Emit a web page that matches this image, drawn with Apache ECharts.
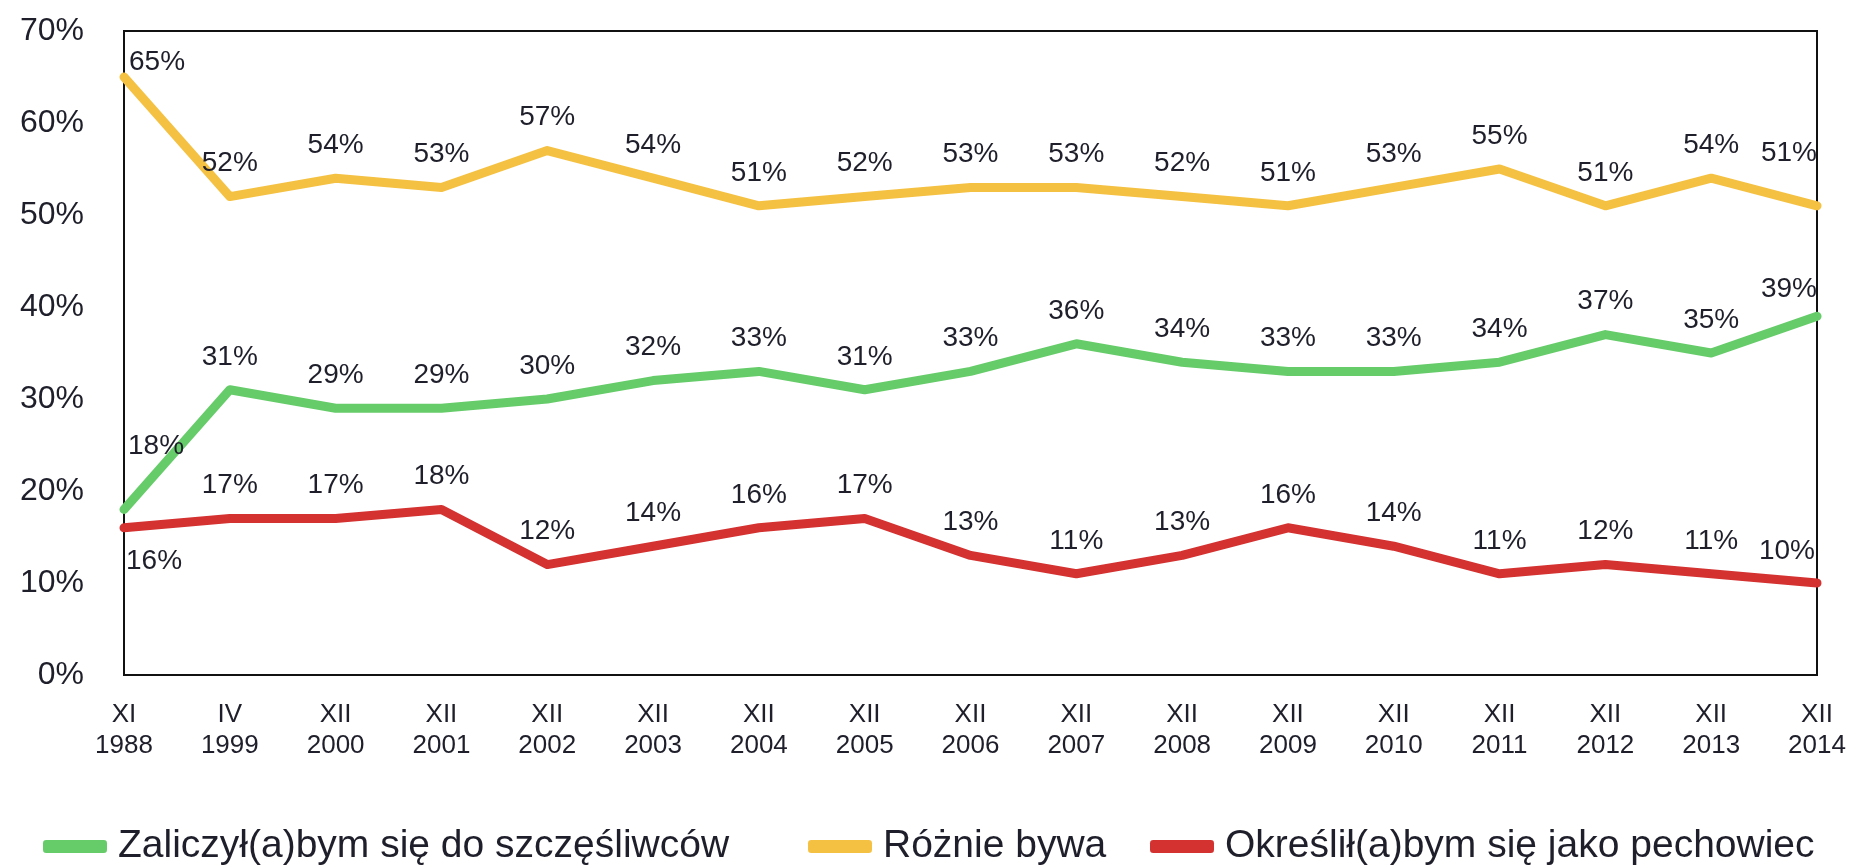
<!DOCTYPE html>
<html>
<head>
<meta charset="utf-8">
<script src="https://cdn.jsdelivr.net/npm/echarts@6/dist/echarts.min.js"></script>
<style>
  html, body { margin: 0; padding: 0; background: #fff; }
  #chart { width: 1851px; height: 865px; }
</style>
</head>
<body>
<div id="chart"></div>
<script>
// Survey waves (month in Roman numerals, year)
const categories = [
  'XI\n1988', 'IV\n1999', 'XII\n2000', 'XII\n2001', 'XII\n2002', 'XII\n2003',
  'XII\n2004', 'XII\n2005', 'XII\n2006', 'XII\n2007', 'XII\n2008', 'XII\n2009',
  'XII\n2010', 'XII\n2011', 'XII\n2012', 'XII\n2013', 'XII\n2014'
];

const seriesNames = [
  'Zaliczył(a)bym się do szczęśliwców',
  'Różnie bywa',
  'Określił(a)bym się jako pechowiec'
];

// Share of answers, in percent
const lucky   = [18, 31, 29, 29, 30, 32, 33, 31, 33, 36, 34, 33, 33, 34, 37, 35, 39];
const varies  = [65, 52, 54, 53, 57, 54, 51, 52, 53, 53, 52, 51, 53, 55, 51, 54, 51];
const unlucky = [16, 17, 17, 18, 12, 14, 16, 17, 13, 11, 13, 16, 14, 11, 12, 11, 10];

const yTicks = [0, 10, 20, 30, 40, 50, 60, 70];

const FONT = "'Liberation Sans', Arial, sans-serif";
const TEXT = '#1f1f2b';

// Labels at both ends are nudged so they stay inside the frame
function withEdgeLabels(values, firstOffset, lastOffset) {
  const last = values.length - 1;
  return values.map((v, i) => {
    if (i === 0) {
      return { value: v, label: { position: 'inside', align: 'left', verticalAlign: 'middle', offset: firstOffset } };
    }
    if (i === last) {
      return { value: v, label: { position: 'inside', align: 'right', verticalAlign: 'middle', offset: lastOffset } };
    }
    return v;
  });
}

function lineSeries(name, color, data) {
  return {
    name: name,
    type: 'line',
    data: data,
    symbol: 'circle',
    symbolSize: 2,
    showSymbol: true,
    color: color,
    itemStyle: { color: color },
    lineStyle: { color: color, width: 9, join: 'round', cap: 'round' },
    label: {
      show: true,
      position: 'top',
      distance: 18,
      formatter: p => p.value + '%',
      fontFamily: FONT,
      fontSize: 28,
      color: TEXT
    },
    emphasis: { disabled: true },
    animation: false,
    z: 3
  };
}

function legendFor(name, left) {
  return {
    data: [name],
    left: left,
    top: 822,
    icon: 'roundRect',
    itemWidth: 64,
    itemHeight: 13,
    selectedMode: false,
    textStyle: {
      fontFamily: FONT,
      fontSize: 39,
      color: TEXT,
      padding: [0, 0, 0, 6]
    }
  };
}

const chart = echarts.init(document.getElementById('chart'), null, { renderer: 'canvas' });

chart.setOption({
  backgroundColor: '#ffffff',
  animation: false,
  grid: {
    left: 124,
    right: 34,
    top: 31,
    bottom: 190,
    show: true,
    borderColor: '#111',
    borderWidth: 2,
    backgroundColor: 'transparent'
  },
  legend: [
    legendFor(seriesNames[0], 38),
    legendFor(seriesNames[1], 803),
    legendFor(seriesNames[2], 1145)
  ],
  xAxis: {
    type: 'category',
    data: categories,
    boundaryGap: false,
    axisLine: { show: true, lineStyle: { color: '#111', width: 2 } },
    axisTick: { show: false },
    splitLine: { show: false },
    axisLabel: {
      interval: 0,
      margin: 24,
      fontFamily: FONT,
      fontSize: 26,
      lineHeight: 31,
      color: TEXT
    }
  },
  yAxis: {
    type: 'value',
    min: yTicks[0],
    max: yTicks[yTicks.length - 1],
    interval: 10,
    axisLine: { show: true, lineStyle: { color: '#111', width: 2 } },
    axisTick: { show: false },
    splitLine: { show: false },
    axisLabel: {
      margin: 40,
      fontFamily: FONT,
      fontSize: 32,
      color: TEXT,
      formatter: v => v + '%'
    }
  },
  series: [
    lineSeries(seriesNames[0], '#66cc6a', withEdgeLabels(lucky, [4, -63], [0, -27])),
    lineSeries(seriesNames[1], '#f5c143', withEdgeLabels(varies, [5, -15], [0, -53])),
    lineSeries(seriesNames[2], '#d43131', withEdgeLabels(unlucky, [2, 33], [-2, -32]))
  ]
});
</script>
</body>
</html>
